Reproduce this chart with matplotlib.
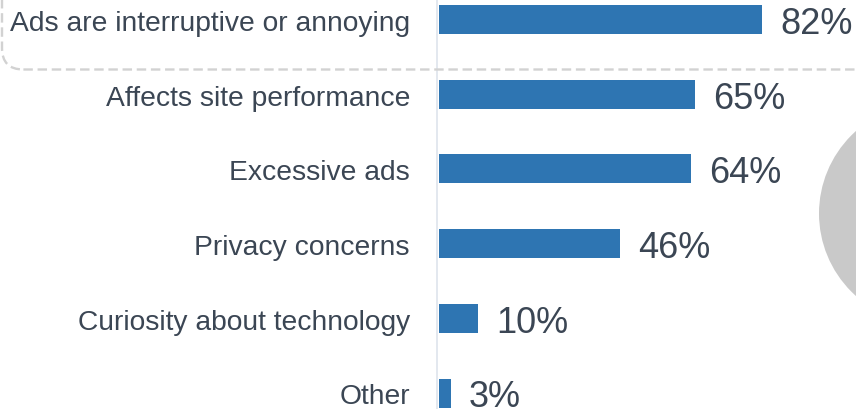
import matplotlib.pyplot as plt
from matplotlib.patches import FancyBboxPatch, Circle
from matplotlib.lines import Line2D

reasons = [
    'Ads are interruptive or annoying',
    'Affects site performance',
    'Excessive ads',
    'Privacy concerns',
    'Curiosity about technology',
    'Other',
]
shares = [82, 65, 64, 46, 10, 3]

W, H = 856, 410
BAR_COLOR = '#2e75b2'
TEXT_COLOR = '#3b4654'

plt.rcParams['font.family'] = ['Liberation Sans', 'DejaVu Sans']

fig = plt.figure(figsize=(W / 100, H / 100), dpi=100)

# axes: x=0 at pixel 439, ~3.94 px per percent
x0 = 439
px = 3.94
ax = fig.add_axes([x0 / W, 0, (W - x0) / W, 1])
ax.set_xlim(0, (W - x0) / px)
step = 74.7
first = 20.5
ax.set_ylim((H - first) / step, -first / step)
ax.axis('off')

ypos = list(range(len(reasons)))
ax.barh(ypos, shares, height=29 / step, color=BAR_COLOR, zorder=3)

for y, name, v in zip(ypos, reasons, shares):
    ax.text(-29 / px, y + 3.5 / step, name, ha='right', va='center',
            fontsize=20.3, color=TEXT_COLOR, clip_on=False)
    ax.text(v + 18 / px, y + 4 / step, f'{v}%', ha='left', va='center',
            fontsize=26, color=TEXT_COLOR, clip_on=False)

# baseline
fig.add_artist(Line2D([437.3 / W, 437.3 / W], [0, 1], color='#e1e6ee',
                      lw=1.3, zorder=1))

# dashed highlight box around the first row
box = FancyBboxPatch((2 / W, (H - 70.5) / H), 1.2, 0.5,
                     boxstyle='round,pad=0,rounding_size=0.025',
                     transform=fig.transFigure, fill=False,
                     edgecolor='#d2d2d2', lw=1.7, linestyle=(0, (4, 2)),
                     mutation_aspect=W / H)
fig.add_artist(box)

# grey circle peeking in at the right edge
circ = Circle((929.5, H - 214.5), 110.5, transform=None,
              facecolor='#c9c9c9', edgecolor='none')
fig.add_artist(circ)

fig.savefig('out.png', dpi=100)
